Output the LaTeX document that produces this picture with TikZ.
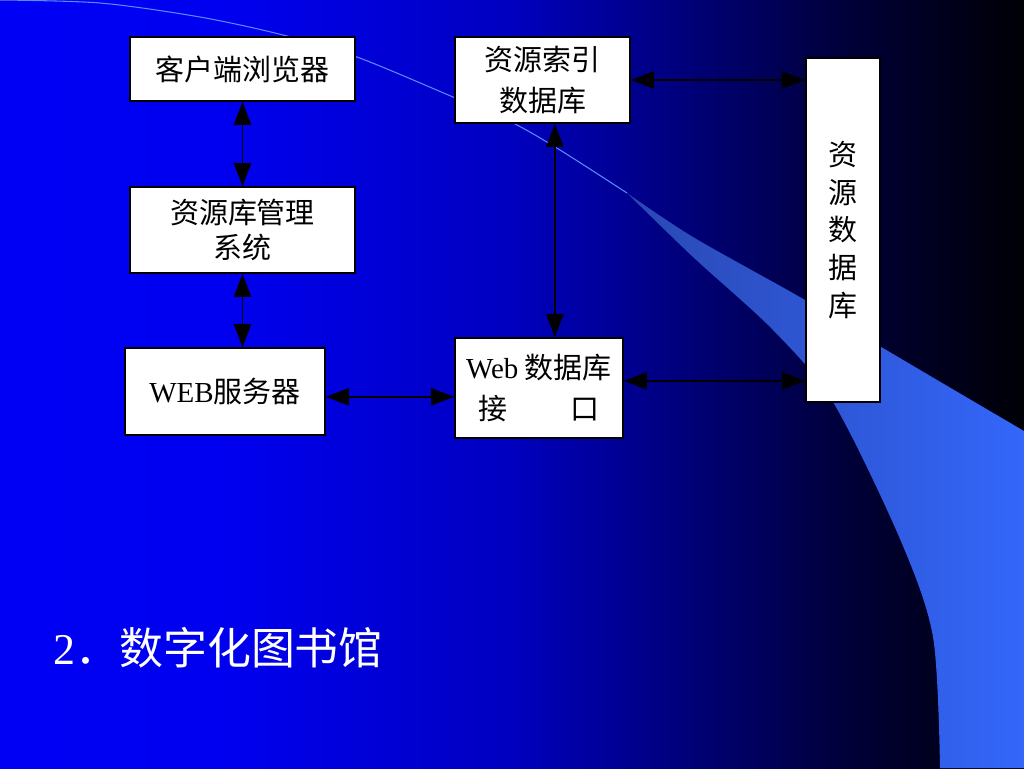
\documentclass[tikz,border=0pt]{standalone}
\usepackage{fontspec}
\setmainfont{Liberation Serif}
\newfontfamily\cjk{Noto Sans CJK SC}
\usepackage{xcolor}
\definecolor{band_dark}{RGB}{42,72,178}
\definecolor{band_blue}{RGB}{51,102,250}
\definecolor{thin_line}{RGB}{95,135,255}
\usepackage{tikz}
\usetikzlibrary{positioning,arrows.meta,calc}
\pgfdeclarehorizontalshading{slidebg}{100bp}{
    rgb(0bp)=(0,0,0.96); rgb(25bp)=(0,0,0.96); rgb(36bp)=(0,0,0.94);
    rgb(50bp)=(0,0,0.75); rgb(58bp)=(0,0,0.49); rgb(66.5bp)=(0,0,0.22);
    rgb(75bp)=(0,0,0.02); rgb(100bp)=(0,0,0.02)}

\begin{document}
\begin{tikzpicture}[
    x=0.02cm, y=-0.02cm,
    box/.style={draw=black,fill=white,line width=0.9pt,inner sep=0pt,align=center,
        font=\cjk\fontsize{16.5}{19.5}\selectfont},
    biarrow/.style={{Triangle[length=0.46cm,width=0.34cm]}-{Triangle[length=0.46cm,width=0.34cm]},
        line width=1.1pt,black}]
]
    % slide background
    \shade[shading=slidebg] (0,0) rectangle (1024,768);
    \useasboundingbox (0,0) rectangle (1024,768);
    \draw[thin_line,line width=0.6pt] plot[smooth] coordinates
        {(0,0) (100,3) (200,17) (283,35) (357,57) (453,97) (513,123) (560,150) (627,193)};
    \shade[left color=band_dark,middle color=band_blue,right color=band_blue]
        plot[smooth] coordinates {(627,193) (693,257) (773,330) (833,402) (900,539) (933,637) (940,768)}
        -- (1024,768) -- (1024,431)
        -- plot[smooth] coordinates {(1024,431) (883,348) (805,300) (693,237) (627,193)} -- cycle;

    % boxes
    \node[box,minimum width=4.5cm,minimum height=1.28cm] (browser) at (242.5,69) {客户端浏览器};
    \node[box,minimum width=4.5cm,minimum height=1.72cm] (manager) at (242.5,230) {资源库管理\\系统};
    \node[box,minimum width=4cm,minimum height=1.74cm] (webserver) at (225,391.5) {{\rmfamily WEB}服务器};
    \node[box,minimum width=3.5cm,minimum height=1.72cm] (indexdb) at (542.5,80) {资源索引\\[4pt]数据库};
    \node[box,minimum width=3.36cm,minimum height=2cm] (webif) at (539,388)
        {{\rmfamily Web} 数据库\\[4pt]接\hspace{2.2em}口};
    \node[box,minimum width=1.48cm,minimum height=6.88cm,
        font=\cjk\fontsize{16.5}{21.5}\selectfont] (resdb) at (843,230) {资\\源\\数\\据\\库};

    % connectors
    \draw[biarrow] (browser) -- (manager);
    \draw[biarrow] (manager.south) -- (manager.south |- webserver.north);
    \coordinate (ws_out) at ($(webserver.north east)!0.56!(webserver.south east)$);
    \draw[biarrow] (ws_out) -- (ws_out -| webif.west);
    \coordinate (idx_out) at ($(indexdb.south west)!0.57!(indexdb.south east)$);
    \draw[biarrow] (idx_out) -- (idx_out |- webif.north);
    \draw[biarrow] (indexdb.east) -- (indexdb.east -| resdb.west);
    \coordinate (if_out) at ($(webif.north east)!0.43!(webif.south east)$);
    \draw[biarrow] (if_out) -- (if_out -| resdb.west);

    % slide title
    \node[white,anchor=base west,inner sep=0pt,font=\fontsize{25}{30}\selectfont] (title)
        at (53,664) {2{\cjk ．数字化图书馆}};
\end{tikzpicture}
\end{document}
